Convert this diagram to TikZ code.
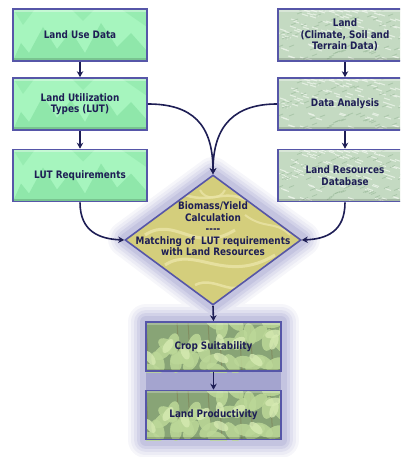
\documentclass[tikz,border=0pt]{standalone}
\usepackage{fontspec}
\newfontfamily\lblfont[FakeStretch=0.86]{DejaVu Sans}
\usetikzlibrary{shapes.geometric,arrows.meta}
\definecolor{navy}{HTML}{1E1E55}
\definecolor{bord}{HTML}{5656A8}
\definecolor{mint}{HTML}{A6F5BE}
\definecolor{mintd}{HTML}{8AE4A6}
\definecolor{sage}{HTML}{C4DAC2}
\definecolor{sagel}{HTML}{EAF3E8}
\definecolor{saged}{HTML}{98B898}
\definecolor{olive}{HTML}{D4CE7C}
\definecolor{olivel}{HTML}{EAE4A6}
\definecolor{leafbg}{HTML}{88A476}
\definecolor{leaf}{HTML}{BCD898}
\definecolor{leafl}{HTML}{D6EAB2}
\definecolor{hA}{HTML}{F6F6FA}
\definecolor{hB}{HTML}{ECECF5}
\definecolor{hC}{HTML}{E0E0EF}
\definecolor{hD}{HTML}{D2D2E8}
\definecolor{hE}{HTML}{C4C4E0}
\definecolor{gap}{HTML}{A4A4CF}
\newcommand\minttex[2]{\begin{scope}
  \clip (#1,#2) rectangle ++(134,52);
  \fill[mint] (#1,#2) rectangle ++(134,52);
  \begin{scope}[shift={(#1,#2)}]
   \fill[mintd,opacity=.8] (0,52)--(8,34)--(16,44)--(30,18)--(44,40)--(58,22)--(72,44)--(88,14)--(104,38)--(118,24)--(134,42)--(134,52)--cycle;
   \fill[mintd,opacity=.5] (0,0)--(22,0)--(10,16)--cycle (58,0)--(82,0)--(70,12)--cycle (108,0)--(134,0)--(134,18)--cycle;
   \fill[white,opacity=.35] (0,0) rectangle (134,3);
   \fill[black,opacity=.15] (0,49) rectangle (134,52);
  \end{scope}\end{scope}}
\newcommand\sagetex[2]{\begin{scope}
  \clip (#1,#2) rectangle ++(134,52);
  \fill[sage] (#1,#2) rectangle ++(134,52);
  \begin{scope}[shift={(#1,#2)}]
   \foreach \i in {1,...,110}{\pgfmathsetmacro\xx{mod(\i*73+17,137)}\pgfmathsetmacro\yy{mod(mod(\i*\i,53)*7+\i*13,53)}
     \draw[sagel,opacity=.85,line width=1pt] (\xx,\yy) -- ++(6,2);}
   \foreach \i in {1,...,70}{\pgfmathsetmacro\xx{mod(\i*59+5,137)}\pgfmathsetmacro\yy{mod(mod(\i*\i,53)*11+\i*3,53)}
     \draw[saged,opacity=.6,line width=.8pt] (\xx,\yy) -- ++(5,-2);}
   \fill[white,opacity=.35] (0,0) rectangle (134,3);
   \fill[black,opacity=.15] (0,49) rectangle (134,52);
  \end{scope}\end{scope}}
\newcommand\leaftex[2]{\begin{scope}
  \clip (#1,#2) rectangle ++(135,50);
  \fill[leafbg] (#1,#2) rectangle ++(135,50);
  \begin{scope}[shift={(#1,#2)}]
   \foreach \i in {1,...,8}{\pgfmathsetmacro\xx{mod(\i*31+11,135)}
     \draw[brown!60!black,opacity=.25,line width=1pt] (\xx,0) -- ++(3,50);}
   \foreach \i in {1,...,30}{\pgfmathsetmacro\xx{mod(\i*41+7,141)}\pgfmathsetmacro\yy{mod(mod(\i*\i,54)*5+\i*17,54)}\pgfmathsetmacro\rr{mod(\i*67,180)}
     \fill[leaf,opacity=.85,rotate around={\rr:(\xx,\yy)}] (\xx,\yy) ellipse (11pt and 6pt);}
   \foreach \i in {1,...,10}{\pgfmathsetmacro\xx{mod(\i*53+21,141)}\pgfmathsetmacro\yy{mod(mod(\i*\i,54)*13+\i*7,54)}\pgfmathsetmacro\rr{mod(\i*97,180)}
     \fill[leafl,opacity=.8,rotate around={\rr:(\xx,\yy)}] (\xx,\yy) ellipse (8pt and 4pt);}
   \fill[white,opacity=.25] (0,0) rectangle (135,3);
   \fill[black,opacity=.15] (0,47) rectangle (135,50);
  \end{scope}\end{scope}}
\begin{document}
\begin{tikzpicture}[x=1pt,y=-1pt,
  lbl/.style={font=\lblfont\bfseries\fontsize{10.3pt}{11.5pt}\selectfont, text=navy, align=center},
  boxbase/.style={lbl, draw=bord, line width=1.6pt, minimum width=134pt, minimum height=52pt, inner sep=0pt},
  leafbox/.style={boxbase, minimum width=135pt, minimum height=49pt},
  conn/.style={draw=navy, line width=1.6pt, -{Stealth[length=6pt,width=6.5pt]}}
]
\useasboundingbox (0,0) rectangle (400,457);
\clip (0,0) rectangle (400,457);
% glow around the central column
\foreach \w/\c in {36/hA,30/hB,24/hC,18/hD,12/hE}{
  \draw[line width=\w pt, line join=round, draw=\c, fill=\c] (126,239)--(213,175)--(302,239)--(213,305)--cycle;
  \draw[line width=\w pt, line join=round, draw=\c, fill=\c] (146,322) rectangle (281,440);
}
\fill[gap] (146,366) rectangle (281,395);
% textures
\minttex{13}{9}\minttex{13}{78}\minttex{13}{149.5}
\sagetex{278}{9}\sagetex{278}{78}\sagetex{278}{149.5}
\leaftex{146}{322}\leaftex{146}{390}
\begin{scope}
  \clip (126,240)--(213,175)--(302,240)--(213,305)--cycle;
  \fill[olive] (126,240)--(213,175)--(302,240)--(213,305)--cycle;
  \begin{scope}[shift={(125,175)}]
    \draw[olivel,line width=3pt,opacity=.85] (20,60) .. controls (50,40) and (70,80) .. (110,55);
    \draw[olivel,line width=2.5pt,opacity=.85] (60,20) .. controls (90,30) and (100,10) .. (130,30);
    \draw[olivel,line width=3pt,opacity=.85] (40,90) .. controls (70,70) and (100,110) .. (150,80);
    \draw[olivel,line width=2.5pt,opacity=.85] (70,110) .. controls (90,100) and (110,125) .. (120,105);
    \draw[olivel,line width=2pt,opacity=.8] (120,40) .. controls (140,55) and (150,45) .. (165,60);
    \draw[olivel,line width=2pt,opacity=.8] (75,15) .. controls (80,25) and (95,25) .. (100,15);
  \end{scope}
\end{scope}
% left column
\node[boxbase] (lud) at (80,35) {Land Use Data};
\node[boxbase] (lut) at (80,104) {Land Utilization\\Types (LUT)};
\node[boxbase] (req) at (80,175.5) {LUT Requirements};
% right column
\node[boxbase] (land) at (345,35) {Land\\(Climate, Soil and\\Terrain Data)};
\node[boxbase] (da) at (345,104) {Data Analysis};
\node[boxbase] (lrd) at (345,175.5) {Land Resources\\Database};
% diamond
\node[diamond, draw=bord, line width=1.6pt, minimum width=176pt, minimum height=130pt, inner sep=0pt] (calc) at (213,240) {};
\node[lbl] (calctxt) at (213,229) {Biomass/Yield\\Calculation\\----\\Matching of~~LUT requirements\\with Land Resources};
% bottom column
\node[leafbox] (crop) at (213.5,346.5) {Crop Suitability};
\node[leafbox] (prod) at (213.5,415) {Land Productivity};
% connectors
\draw[conn] (lud.south) -- (lut.north);
\draw[conn] (lut.south) -- (req.north);
\draw[conn] (land.south) -- (da.north);
\draw[conn] (da.south) -- (lrd.north);
\draw[conn] (lut.east) .. controls (192,104) and (213,124) .. (calc.north);
\draw[conn] (da.west) .. controls (236,104) and (213,124) .. (calc.north);
\draw[conn] (req.south) .. controls (80,232) and (100,239) .. (calc.west);
\draw[conn] (lrd.south) .. controls (345,232) and (326,239) .. (calc.east);
\draw[conn] (calc.south) -- (crop.north);
\draw[conn] (crop.south) -- (prod.north);
\end{tikzpicture}
\end{document}
